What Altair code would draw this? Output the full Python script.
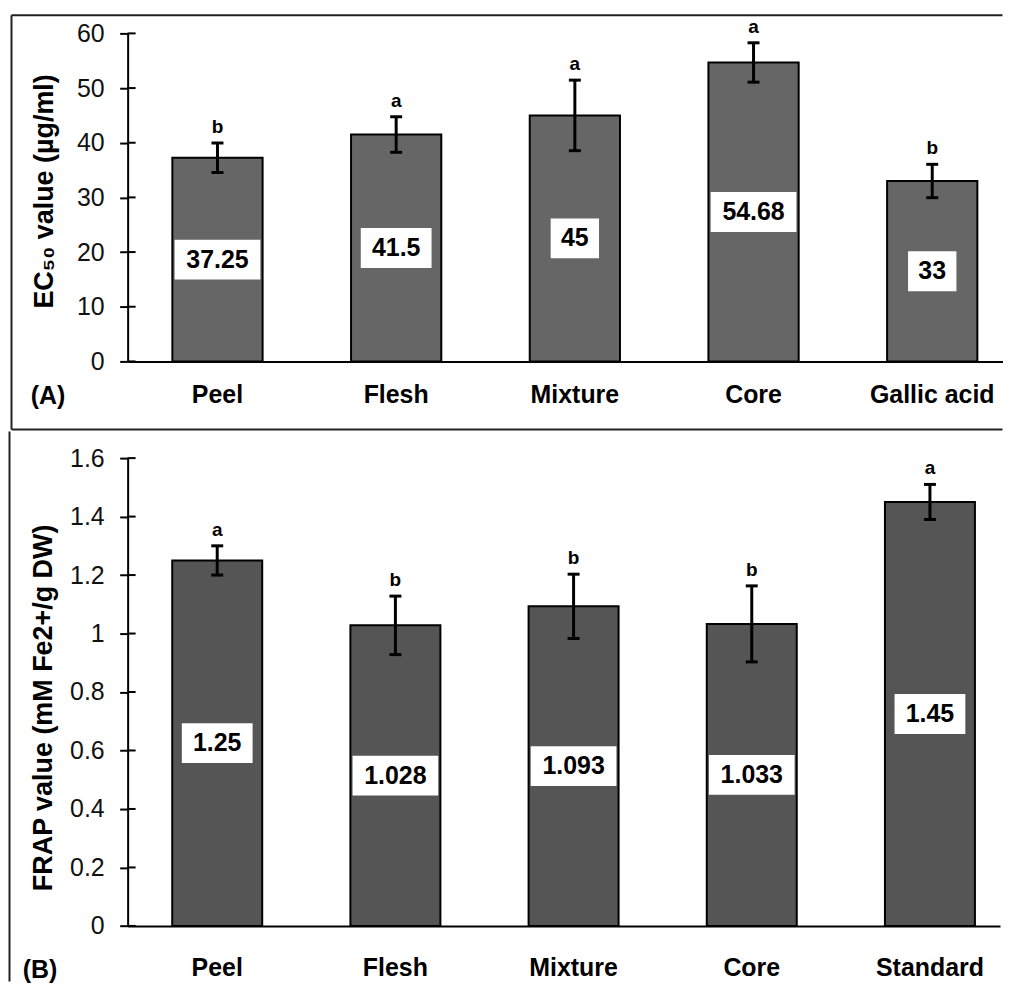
import altair as alt
import pandas as pd

# ---- Panel A data (EC50) ----
cats_a = ["Peel", "Flesh", "Mixture", "Core", "Gallic acid"]
means_a = [37.25, 41.5, 45, 54.68, 33]
errs_a = [2.7, 3.25, 6.45, 3.6, 3.05]
letters_a = ["b", "a", "a", "a", "b"]
ticks_a = [0, 10, 20, 30, 40, 50, 60]

# ---- Panel B data (FRAP) ----
cats_b = ["Peel", "Flesh", "Mixture", "Core", "Standard"]
means_b = [1.25, 1.028, 1.093, 1.033, 1.45]
errs_b = [0.05, 0.1, 0.11, 0.13, 0.06]
letters_b = ["a", "b", "b", "b", "a"]
ticks_b = [0, 0.2, 0.4, 0.6, 0.8, 1.0, 1.2, 1.4, 1.6]

FONT = "Liberation Sans"


def panel(cats, means, errs, letters, ticks, ymax, width, height, fill,
          title, title_x, title_y, xlab_pad, border_left, border_top,
          border_bottom, top_line, divider, tag, tag_x, tag_y):
    df = pd.DataFrame({"cat": cats, "mean": means, "err": errs, "letter": letters})
    base = alt.Chart(df).transform_calculate(
        upper="datum.mean + datum.err",
        lower="datum.mean - datum.err",
        half="datum.mean / 2",
        label="'' + datum.mean",
    ).transform_calculate(
        boxw="15 * (length(datum.label) - (indexof(datum.label, '.') >= 0 ? 0.5 : 0)) + 18.5"
    )
    xscale = alt.Scale(type="band", paddingInner=0.495, paddingOuter=0.1955, align=0.64)
    yscale = alt.Scale(domain=[0, ymax], nice=False, zero=True)
    xaxis = alt.Axis(title=None, ticks=False, tickSize=0, labelAngle=0,
                     labelFontSize=25, labelFontWeight="bold",
                     labelColor="black", labelPadding=xlab_pad,
                     labelBaseline="alphabetic", domainColor="black",
                     domainWidth=2, zindex=1)
    yaxis = alt.Axis(values=ticks, labelExpr="format(datum.value, '.2~f')",
                     tickSize=8, tickWidth=2,
                     tickColor="black", domainColor="black", domainWidth=2,
                     labelFontSize=25, labelColor="#111111",
                     labelPadding=15.5, labelFlush=False,
                     labelOverlap=False, grid=False, zindex=1,
                     title=title, titleFontSize=27, titleFontWeight="bold",
                     titleColor="black", titleAngle=270, titleX=title_x,
                     titleY=title_y, titleAlign="center",
                     titleBaseline="alphabetic")
    xenc = alt.X("cat:N", sort=cats, scale=xscale)

    def yenc(field):
        return alt.Y(field, scale=yscale)

    bars = base.mark_bar(fill=fill, stroke="black", strokeWidth=2).encode(
        x=alt.X("cat:N", sort=cats, scale=xscale, axis=xaxis),
        y=alt.Y("mean:Q", scale=yscale, axis=yaxis),
    )
    boxes = base.mark_tick(orient="horizontal", thickness=40, color="white",
                           opacity=1).encode(
        x=xenc, y=yenc("half:Q"),
        size=alt.Size("boxw:Q", scale=None, legend=None),
    )
    vals = base.mark_text(fontSize=25, fontWeight="bold", baseline="middle",
                          color="black").encode(
        x=xenc, y=yenc("half:Q"), text="label:N"
    )
    err = base.mark_rule(strokeWidth=3, color="black").encode(
        x=xenc, y=yenc("lower:Q"), y2="upper:Q"
    )
    cap_hi = base.mark_tick(orient="horizontal", size=12, thickness=3,
                            color="black", opacity=1).encode(
        x=xenc, y=yenc("upper:Q")
    )
    cap_lo = base.mark_tick(orient="horizontal", size=12, thickness=3,
                            color="black", opacity=1).encode(
        x=xenc, y=yenc("lower:Q")
    )
    lets = base.mark_text(fontSize=19, fontWeight="bold", baseline="alphabetic",
                          dy=-10, color="black").encode(
        x=xenc, y=yenc("upper:Q"), text="letter:N"
    )
    tdf = pd.DataFrame({"t": ticks})
    inner_ticks = alt.Chart(tdf).mark_rule(strokeWidth=2, color="black").encode(
        y=yenc("t:Q"), x=alt.value(0), x2=alt.value(8)
    )
    one = pd.DataFrame({"d": [0]})
    layers = [
        alt.Chart(one).mark_rule(strokeWidth=2, color="#222222").encode(
            x=alt.value(border_left), y=alt.value(border_top), y2=alt.value(border_bottom)
        ),
    ]
    if top_line:
        layers.append(alt.Chart(one).mark_rule(strokeWidth=2, color="#222222").encode(
            x=alt.value(border_left), x2=alt.value(width), y=alt.value(border_top)))
    if divider is not None:
        layers.append(alt.Chart(one).mark_rule(strokeWidth=2, color="#222222").encode(
            x=alt.value(border_left), x2=alt.value(width), y=alt.value(divider)))
    tag_layer = alt.Chart(one).mark_text(fontSize=25, fontWeight="bold", align="left",
                                         baseline="alphabetic", color="black").encode(
        x=alt.value(tag_x), y=alt.value(tag_y), text=alt.value(tag)
    )
    layers += [bars, boxes, vals, err, cap_hi, cap_lo, lets, inner_ticks, tag_layer]
    return alt.layer(*layers).properties(width=width, height=height)


panel_a = panel(cats_a, means_a, errs_a, letters_a, ticks_a, 60, 877.5, 329, "#666666",
                "EC₅₀ value (µg/ml)", -75, 158, 41.7,
                -116.5, -18.3, 397.2, True, 397.2, "(A)", -97.2, 371.7)
panel_b = panel(cats_b, means_b, errs_b, letters_b, ticks_b, 1.6, 875, 469.2, "#555555",
                "FRAP value (mM Fe2+/g DW)", -76.3, 250, 50,
                -118.5, -26.8, 525, False, None, "(B)", -105.3, 521.7)

chart = alt.vconcat(panel_a, panel_b, spacing=-1).properties(
    padding={"left": 0, "top": 4, "right": 0, "bottom": 0}
).configure(font=FONT).configure_view(strokeWidth=0)

chart.save("out.html", embed_options={"renderer": "svg", "actions": False})
